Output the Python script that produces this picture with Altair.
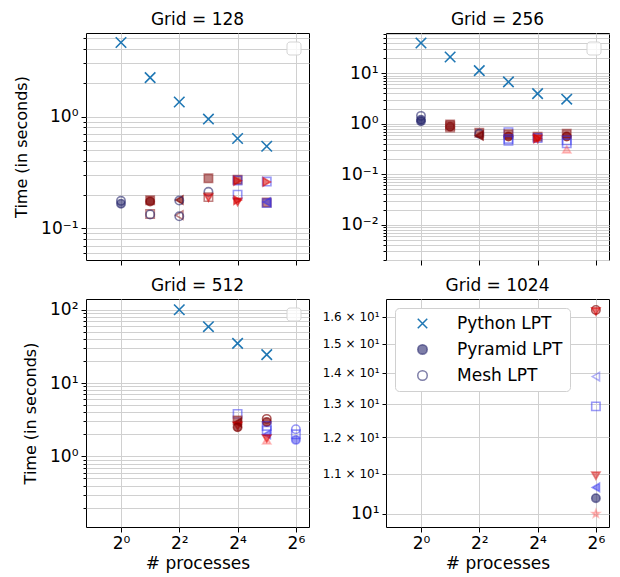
import math
import altair as alt
import pandas as pd

FONT = "DejaVu Sans"

# ---------------- data ----------------
g128_nprocs = [1, 2, 4, 8, 16, 32,
               1, 1, 2, 2, 2, 2, 4, 4, 4, 4, 8, 8, 8, 8,
               16, 16, 16, 16, 16, 16, 32, 32, 32, 32, 32]
g128_times = [4.6, 2.23, 1.35, 0.95, 0.636, 0.543,
              0.176, 0.166, 0.178, 0.174, 0.134, 0.133, 0.179, 0.177, 0.131, 0.128,
              0.28, 0.212, 0.19, 0.188,
              0.272, 0.268, 0.266, 0.2, 0.178, 0.172,
              0.262, 0.26, 0.17, 0.168, 0.172]
g128_series = ["Python LPT"] * 6 + [
    "Mesh LPT", "Pyramid LPT", "Pyramid S", "Pyramid C", "Mesh S", "Mesh LPT",
    "Pyramid T", "Mesh LPT", "Mesh T", "Mesh LPT",
    "Pyramid S", "Mesh LPT", "Mesh S", "Pyramid D",
    "Pyramid S", "Mesh B", "Pyramid R", "Mesh B", "Pyramid R", "Pyramid D",
    "Mesh B", "Pyramid R", "Pyramid S", "Mesh B", "Pyramid B"]

g256_nprocs = [1, 2, 4, 8, 16, 32,
               1, 1, 1, 2, 2, 2, 2, 4, 4, 4, 4, 8, 8, 8, 8, 8,
               16, 16, 16, 16, 32, 32, 32, 32, 32]
g256_times = [39.7, 21.0, 11.25, 6.73, 3.95, 3.06,
              1.43, 1.2, 1.12, 0.97, 0.91, 0.87, 0.84, 0.66, 0.63, 0.6, 0.58,
              0.68, 0.62, 0.56, 0.5, 0.46,
              0.55, 0.52, 0.51, 0.5, 0.63, 0.56, 0.47, 0.41, 0.31]
g256_series = ["Python LPT"] * 6 + [
    "Mesh LPT", "Pyramid LPT", "Pyramid LPT", "Pyramid S", "Mesh S", "Pyramid C", "Mesh S",
    "Pyramid S", "Mesh LPT", "Mesh T", "Pyramid T",
    "Mesh B", "Pyramid S", "Pyramid C", "Mesh B", "Mesh B",
    "Pyramid S", "Mesh B", "Pyramid R", "Pyramid D",
    "Pyramid S", "Pyramid C", "Mesh B", "Mesh B", "Pyramid U"]

g512_nprocs = [4, 8, 16, 32,
               16, 16, 16, 16, 16, 32, 32, 32, 32, 32, 32, 32, 64, 64, 64]
g512_times = [100.0, 58.7, 34.8, 24.4,
              3.8, 3.1, 2.9, 2.6, 2.5, 3.25, 2.95, 2.6, 2.25, 2.0, 1.75, 1.65,
              2.35, 2.0, 1.68]
g512_series = ["Python LPT"] * 4 + [
    "Mesh B", "Pyramid S", "Pyramid T", "Pyramid D", "Pyramid C",
    "Mesh R", "Pyramid C", "Mesh B", "Mesh B", "Pyramid B", "Pyramid D", "Pyramid U",
    "Mesh BC", "Mesh B", "Pyramid BC"]

g1024_nprocs = [64, 64, 64, 64, 64, 64, 64, 64]
g1024_times = [16.26, 16.2, 13.87, 12.92, 10.95, 10.65, 10.38, 10.0]
g1024_series = ["Mesh R", "Pyramid D", "Mesh BT", "Mesh B", "Pyramid D2",
                "Pyramid B", "Pyramid LPT", "Pyramid P"]

LEGEND_VALUES = ["Python LPT", "Pyramid LPT", "Mesh LPT"]

# ---------------- styles ----------------
def star_path(n=5, r_out=1.0, r_in=0.42):
    pts = []
    for k in range(2 * n):
        r = r_out if k % 2 == 0 else r_in
        a = math.pi * (-0.5 + k / n)
        pts.append(f"{r * math.cos(a):.3f},{r * math.sin(a):.3f}")
    return "M" + "L".join(pts) + "Z"

XPATH = "M-1,-1L1,1M-1,1L1,-1"
STAR = star_path()
NAVY = "rgba(40,40,110,0.6)"
DARKRED = "rgba(128,0,0,0.65)"
BROWN = "rgba(150,45,45,0.6)"
RED = "rgba(215,0,0,0.55)"
RED2 = "rgba(220,60,60,0.6)"
BLUE = "rgba(50,50,240,0.5)"
BLUE2 = "rgba(80,80,240,0.45)"
PINK = "rgba(255,90,90,0.35)"
NONE = "transparent"

STYLE = {
    "Python LPT": (XPATH, NONE, "#1f77b4"),
    "Pyramid LPT": ("circle", NAVY, NAVY),
    "Mesh LPT": ("circle", NONE, NAVY),
    "Pyramid S": ("square", BROWN, BROWN),
    "Pyramid C": ("circle", DARKRED, DARKRED),
    "Mesh S": ("square", NONE, BROWN),
    "Pyramid T": ("triangle-left", DARKRED, DARKRED),
    "Mesh T": ("triangle-left", NONE, BROWN),
    "Pyramid R": ("triangle-right", RED, RED),
    "Pyramid D": ("triangle-down", RED, RED),
    "Pyramid D2": ("triangle-down", RED2, RED2),
    "Mesh B": ("square", NONE, BLUE),
    "Mesh BT": ("triangle-left", NONE, BLUE2),
    "Pyramid B": ("triangle-left", BLUE, BLUE),
    "Pyramid U": ("triangle-up", PINK, PINK),
    "Pyramid P": (STAR, PINK, PINK),
    "Mesh R": ("circle", NONE, DARKRED),
    "Mesh BC": ("circle", NONE, BLUE),
    "Pyramid BC": ("circle", BLUE, BLUE),
}
SERIES = list(STYLE.keys())
SHAPES = [STYLE[s][0] for s in SERIES]
FILLS = [STYLE[s][1] for s in SERIES]
STROKES = [STYLE[s][2] for s in SERIES]

SUP = {"-": "\u207b", "0": "\u2070", "1": "\u00b9", "2": "\u00b2", "3": "\u00b3",
       "4": "\u2074", "5": "\u2075", "6": "\u2076", "7": "\u2077", "8": "\u2078", "9": "\u2079"}

def sup(s):
    return "".join(SUP[c] for c in str(s))

def chain(mapping, default):
    parts = [f"datum.value == {v!r} ? {val!r}" for v, val in mapping.items()]
    return " : ".join(parts) + f" : {default!r}" if parts else repr(default)

def log_ticks(lo, hi):
    vals, major = [], {}
    for e in range(-4, 4):
        for m in range(1, 10):
            v = m * 10 ** e
            if lo <= v <= hi:
                vals.append(v)
                if m == 1:
                    major[v] = "10" + sup(e)
    return vals, major

X_DOMAIN = [2 ** -1.2, 2 ** 6.45]
X_LABELS = {1: "2" + sup(0), 4: "2" + sup(2), 16: "2" + sup(4), 64: "2" + sup(6)}


def panel(nprocs, times, series, title, ydomain, bottom, left, legend, height, linear_labels=False):
    df = pd.DataFrame({"nprocs": nprocs, "time": times, "series": series})
    if linear_labels:
        yvals = list(range(10, 17))
        labels = {v: (f"{v / 10:.1f} \u00d7 10" + sup(1) if v != 10 else "10" + sup(1)) for v in yvals}
        yaxis = alt.Axis(values=yvals, labelExpr=chain(labels, ""),
                         labelFontSize={"condition": {"test": "datum.value == 10", "value": 17}, "value": 12},
                         tickSize=4, title=None)
    else:
        yvals, major = log_ticks(*ydomain)
        test = " || ".join(f"datum.value == {v!r}" for v in major)
        yaxis_kw = dict(values=yvals, labelExpr=chain(major, ""),
                        tickSize={"condition": {"test": test, "value": 5}, "value": 3},
                        labelFontSize=17)
        if left:
            yaxis_kw.update(title="Time (in seconds)", titleFontSize=16, titlePadding=11)
        else:
            yaxis_kw.update(title=None)
        yaxis = alt.Axis(**yaxis_kw)

    if bottom:
        xaxis = alt.Axis(values=[1, 4, 16, 64], labelExpr=chain(X_LABELS, ""), labelFontSize=17,
                         title="# processes", titleFontSize=17, titlePadding=4)
    else:
        xaxis = alt.Axis(values=[1, 4, 16, 64], labels=False, title=None)

    leg = legend
    pts = alt.Chart(df).mark_point(opacity=1, strokeWidth=1.6).encode(
        x=alt.X("nprocs:Q", scale=alt.Scale(type="log", base=2, domain=X_DOMAIN, nice=False), axis=xaxis),
        y=alt.Y("time:Q", scale=alt.Scale(type="log", domain=ydomain, nice=False), axis=yaxis),
        shape=alt.Shape("series:N", scale=alt.Scale(domain=SERIES, range=SHAPES), legend=leg),
        fill=alt.Fill("series:N", scale=alt.Scale(domain=SERIES, range=FILLS), legend=leg),
        stroke=alt.Stroke("series:N", scale=alt.Scale(domain=SERIES, range=STROKES), legend=leg),
        size=alt.condition(alt.datum.series == "Python LPT", alt.value(110), alt.value(70)),
    )
    layers = [pts]
    if legend is None:
        box = alt.Chart(pd.DataFrame({"a": [0]})).mark_rect(
            cornerRadius=3, fill="white", fillOpacity=0.8, stroke="#d5d5d5", strokeWidth=1
        ).encode(x=alt.value(201), x2=alt.value(215), y=alt.value(9), y2=alt.value(22))
        layers.append(box)
    return alt.layer(*layers).properties(
        width=223, height=height,
        title=alt.TitleParams(title, fontSize=17, font=FONT, fontWeight="normal", offset=4, color="black"),
    )


legend4 = alt.Legend(title=None, values=LEGEND_VALUES, orient="top-left", offset=9, padding=7,
                     fillColor="white", strokeColor="#d0d0d0", cornerRadius=4,
                     labelFont=FONT, labelFontSize=17, labelColor="black",
                     symbolSize=90, symbolStrokeWidth=1.5, symbolOffset=12, labelOffset=26,
                     rowPadding=8, labelExpr="datum.label + '\u00a0\u00a0\u00a0'")

p1 = panel(g128_nprocs, g128_times, g128_series, "Grid = 128", [0.052, 5.6], False, True, None, 227)
p2 = panel(g256_nprocs, g256_times, g256_series, "Grid = 256", [0.002, 62.6], False, False, None, 227)
p3 = panel(g512_nprocs, g512_times, g512_series, "Grid = 512", [0.109, 140], True, True, None, 228)
p4 = panel(g1024_nprocs, g1024_times, g1024_series, "Grid = 1024", [9.69, 16.69], True, False, legend4, 228,
           linear_labels=True)

chart = alt.concat(p1, p2, p3, p4, columns=2, spacing={"row": 39, "column": 77}, bounds="flush").resolve_scale(
    x="independent", y="independent", shape="independent", fill="independent", stroke="independent"
).resolve_legend(shape="independent", fill="independent", stroke="independent").configure_view(
    stroke="black", strokeWidth=1
).configure_axis(
    labelFont=FONT, titleFont=FONT, labelColor="black", titleColor="black", titleFontWeight="normal",
    tickColor="black", domain=False, grid=True, gridColor="#d0d0d0", gridWidth=1,
    labelPadding=3, tickSize=5,
).properties(
    padding={"left": 13, "top": 10, "right": 5, "bottom": 5}, background="white"
)

chart.save("out.html", embed_options={"renderer": "svg", "actions": False})
